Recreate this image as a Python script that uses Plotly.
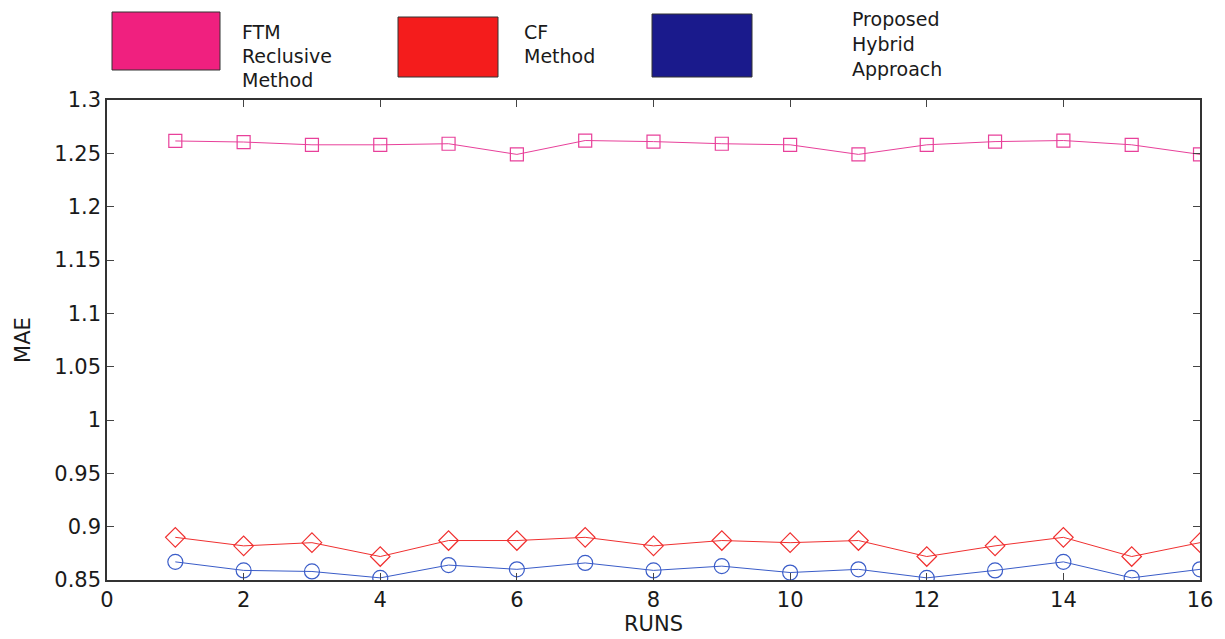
import plotly.graph_objects as go

runs = list(range(1, 17))
ftm = [1.2616, 1.2606, 1.258, 1.258, 1.259, 1.249, 1.262, 1.261, 1.259, 1.258, 1.249, 1.258, 1.261, 1.262, 1.258, 1.249]
cf = [0.890, 0.882, 0.885, 0.872, 0.887, 0.887, 0.890, 0.882, 0.887, 0.885, 0.887, 0.872, 0.882, 0.890, 0.872, 0.885]
hybrid = [0.867, 0.859, 0.858, 0.852, 0.864, 0.860, 0.866, 0.859, 0.863, 0.857, 0.860, 0.852, 0.859, 0.867, 0.852, 0.860]

legend_names = [["FTM", "Reclusive", "Method"], ["CF", "Method"], ["Proposed", "Hybrid", "Approach"]]
legend_colors = ["#f0207f", "#f41c1c", "#1a1a8c"]

W, H = 1225, 639
L, R, T, B = 107, 25, 100, 59
pw, ph = W - L - R, H - T - B

def px(x):
    return (x - L) / pw

def py(y):
    return (H - B - y) / ph

FONT = "DejaVu Sans, Liberation Sans, Arial, sans-serif"

fig = go.Figure()
fig.add_trace(go.Scatter(x=runs, y=ftm, mode="lines+markers", line=dict(color="#e8409a", width=1),
                         marker=dict(symbol="square-open", size=13, color="#e8409a", line=dict(width=1.2)), name="FTM Reclusive Method"))
fig.add_trace(go.Scatter(x=runs, y=cf, mode="lines+markers", line=dict(color="#f03030", width=1),
                         marker=dict(symbol="diamond-open", size=15, color="#f03030", line=dict(width=1.2)), name="CF Method"))
fig.add_trace(go.Scatter(x=runs, y=hybrid, mode="lines+markers", line=dict(color="#3a5cc8", width=1),
                         marker=dict(symbol="circle-open", size=15, color="#3a5cc8", line=dict(width=1.2)), name="Proposed Hybrid Approach"))

# custom legend
boxes = [(112, 12, 220, 70), (398, 17, 498, 77), (652, 14, 752, 77)]
text_pos = [(241, [32, 56, 80]), (523, [32, 56]), (851, [19, 44, 69])]
shapes = []
annotations = []
for (x0, y0, x1, y1), col in zip(boxes, legend_colors):
    shapes.append(dict(type="rect", xref="paper", yref="paper", x0=px(x0), x1=px(x1), y0=py(y1), y1=py(y0),
                       fillcolor=col, line=dict(color="#333333", width=1)))
for (tx, ys), lines in zip(text_pos, legend_names):
    for yy, t in zip(ys, lines):
        annotations.append(dict(xref="paper", yref="paper", x=px(tx), y=py(yy), text=t, showarrow=False,
                                xanchor="left", yanchor="middle", borderpad=0,
                                font=dict(size=19, color="#1a1a1a")))

fig.update_layout(
    width=W, height=H, margin=dict(l=L, r=R, t=T, b=B),
    paper_bgcolor="white", plot_bgcolor="white",
    font=dict(family=FONT, size=21, color="#1a1a1a"),
    showlegend=False, shapes=shapes, annotations=annotations,
    xaxis=dict(range=[0, 16], tickvals=list(range(0, 17, 2)), ticks="inside", ticklen=7, mirror="ticks",
               showline=True, linecolor="#333333", linewidth=1.5, showgrid=False, zeroline=False,
               tickfont=dict(size=21), automargin=False,
               title=dict(text="RUNS", font=dict(size=21), standoff=4)),
    yaxis=dict(range=[0.85, 1.3], tickvals=[0.85, 0.9, 0.95, 1.0, 1.05, 1.1, 1.15, 1.2, 1.25, 1.3],
               ticktext=["0.85", "0.9", "0.95", "1", "1.05", "1.1", "1.15", "1.2", "1.25", "1.3"],
               ticks="inside", ticklen=7, mirror="ticks",
               showline=True, linecolor="#333333", linewidth=1.5, showgrid=False, zeroline=False,
               tickfont=dict(size=21), automargin=False,
               title=dict(text="MAE", font=dict(size=21), standoff=18)),
)

fig.write_html("out.html")
